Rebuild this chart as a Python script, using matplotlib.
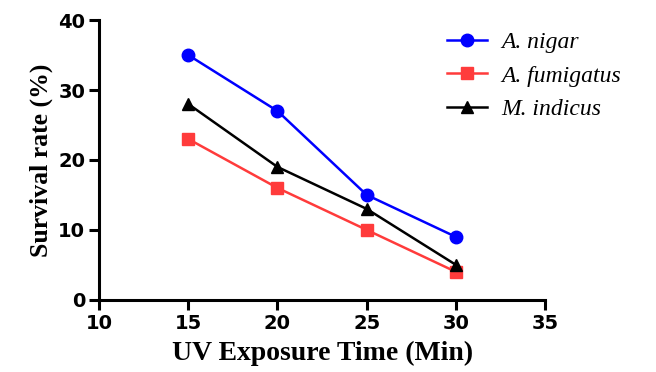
import numpy as np
import matplotlib.pyplot as plt

# exposure times and survival rates
time_min = [15, 20, 25, 30]
a_nigar = [35, 27, 15, 9]
a_fumigatus = [23, 16, 10, 4]
m_indicus = [28, 19, 13, 5]

x_ticks = [10, 15, 20, 25, 30, 35]
y_ticks = [0, 10, 20, 30, 40]

fig = plt.figure(figsize=(6.56, 3.72), dpi=100)
ax = fig.add_axes([0.151, 0.194, 0.680, 0.752])

ax.plot(time_min, a_nigar, color='#0000ff', marker='o', markersize=9, linewidth=1.8, label='A. nigar')
ax.plot(time_min, a_fumigatus, color='#ff3b3b', marker='s', markersize=9, linewidth=1.8, label='A. fumigatus')
ax.plot(time_min, m_indicus, color='black', marker='^', markersize=9, linewidth=1.8, label='M. indicus')

ax.set_xlim(10, 35)
ax.set_ylim(0, 40)
ax.set_xticks(x_ticks)
ax.set_yticks(y_ticks)

# only left and bottom axis lines, like the original
for side in ['top', 'right']:
    ax.spines[side].set_visible(False)
for side in ['left', 'bottom']:
    ax.spines[side].set_linewidth(2.2)
ax.tick_params(width=2.2, length=7, direction='out', pad=3)
for lab in ax.get_xticklabels() + ax.get_yticklabels():
    lab.set_fontfamily('DejaVu Sans')
    lab.set_fontweight('bold')
    lab.set_fontsize(14)

ax.set_xlabel('UV Exposure Time (Min)', family='Liberation Serif', fontweight='bold', fontsize=20, labelpad=6)
ax.set_ylabel('Survival rate (%)', family='Liberation Serif', fontweight='bold', fontsize=18.5, labelpad=4)

ax.legend(loc='upper left', bbox_to_anchor=(0.667, 0.94), bbox_transform=fig.transFigure,
          frameon=False, prop={'family': 'Liberation Serif', 'style': 'italic', 'size': 17},
          handlelength=1.7, handletextpad=0.6, labelspacing=0.5, borderaxespad=0)

fig.savefig('out.png', dpi=100)
